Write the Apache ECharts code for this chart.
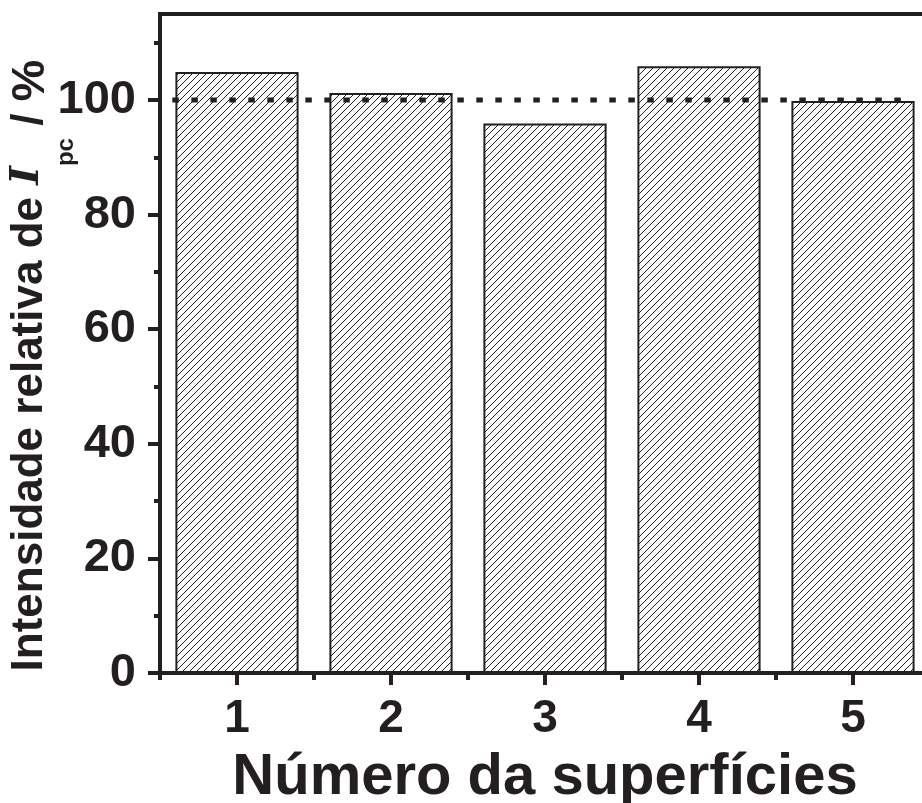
<!DOCTYPE html>
<html>
<head>
<meta charset="utf-8">
<script src="https://cdn.jsdelivr.net/npm/echarts@6/dist/echarts.min.js"></script>
<style>
html,body{margin:0;padding:0;background:#fff;}
#chart{width:922px;height:803px;}
</style>
</head>
<body>
<div id="chart"></div>
<script>
// ---- data ----
const categories = [1, 2, 3, 4, 5];
const values = [104.9, 101.2, 95.9, 105.9, 99.8];
const yTickLabels = [0, 20, 40, 60, 80, 100];
const yMinorTicks = [10, 30, 50, 70, 90, 110];
const xMinorTicks = [0.5, 1.5, 2.5, 3.5, 4.5, 5.5];
const refValue = 100;
const refLineX = [0.58, 5.39];

const INK = '#231f20';
const FONT = '"Liberation Sans", Arial, sans-serif';

// hatch pattern "/////"
function makeHatch() {
  const L = 14, n = 2;
  const c = document.createElement('canvas');
  c.width = L; c.height = L;
  const ctx = c.getContext('2d');
  ctx.fillStyle = '#fff';
  ctx.fillRect(0, 0, L, L);
  ctx.strokeStyle = INK;
  ctx.lineWidth = 1.0;
  for (let k = -n; k <= 3 * n; k++) {
    const s = k * L / n;
    ctx.beginPath();
    ctx.moveTo(s + L, -L);
    ctx.lineTo(s - 2 * L, 2 * L);
    ctx.stroke();
  }
  return c;
}
const hatch = makeHatch();

const chart = echarts.init(document.getElementById('chart'));
const option = {
  backgroundColor: '#fff',
  animation: false,
  grid: {
    left: 160, top: 14, width: 770, height: 659,
    outerBoundsMode: 'none', containLabel: false,
    show: true, borderColor: INK, borderWidth: 4, backgroundColor: 'transparent'
  },
  xAxis: [
    {
      type: 'value', min: 0.5, max: 5.5, position: 'bottom',
      axisLine: { show: true, onZero: false, lineStyle: { color: INK, width: 4 } },
      axisTick: { show: true, inside: false, length: 12, customValues: categories, lineStyle: { color: INK, width: 4 } },
      axisLabel: { show: true, customValues: categories, margin: 23, color: INK, fontSize: 46, fontWeight: 'bold', fontFamily: FONT },
      splitLine: { show: false },
      name: 'Número da superfícies',
      nameLocation: 'middle',
      nameGap: 76,
      nameMoveOverlap: false,
      nameTextStyle: { color: INK, fontSize: 58, fontWeight: 'bold', fontFamily: FONT }
    },
    {
      type: 'value', min: 0.5, max: 5.5, position: 'bottom',
      axisLine: { show: false },
      axisTick: { show: true, inside: false, length: 7, customValues: xMinorTicks, lineStyle: { color: INK, width: 4 } },
      axisLabel: { show: false },
      splitLine: { show: false }
    }
  ],
  yAxis: [
    {
      type: 'value', min: 0, max: 115, position: 'left',
      axisLine: { show: true, onZero: false, lineStyle: { color: INK, width: 4 } },
      axisTick: { show: true, inside: false, length: 12, customValues: yTickLabels, lineStyle: { color: INK, width: 4 } },
      axisLabel: { show: true, customValues: yTickLabels, margin: 24, color: INK, fontSize: 47, fontWeight: 'bold', fontFamily: FONT },
      splitLine: { show: false },
      name: '{a|Intensidade relativa de }{i|I}{s|pc}{a| / }{p|%}',
      nameLocation: 'middle',
      nameRotate: 90,
      nameGap: 82,
      nameMoveOverlap: false,
      nameTextStyle: {
        padding: [0, 44, 0, 0],
        rich: {
          a: { color: INK, fontSize: 44, fontWeight: 'bold', fontFamily: FONT, lineHeight: 44, verticalAlign: 'top' },
          p: { color: INK, fontSize: 47, fontWeight: 'bold', fontFamily: FONT, lineHeight: 44, verticalAlign: 'top' },
          i: { color: INK, fontSize: 40, fontWeight: 'bold', fontStyle: 'italic', fontFamily: '"DejaVu Serif", "Liberation Serif", serif', lineHeight: 44, verticalAlign: 'top' },
          s: { color: INK, fontSize: 24, fontWeight: 'bold', fontFamily: FONT, lineHeight: 70, verticalAlign: 'bottom' }
        }
      }
    },
    {
      type: 'value', min: 0, max: 115, position: 'left',
      axisLine: { show: false },
      axisTick: { show: true, inside: false, length: 6, customValues: yMinorTicks, lineStyle: { color: INK, width: 4 } },
      axisLabel: { show: false },
      splitLine: { show: false }
    }
  ],
  series: [
    {
      type: 'bar',
      xAxisIndex: 0, yAxisIndex: 0,
      data: categories.map((c, i) => [c, values[i]]),
      barWidth: '80%',
      itemStyle: { color: { image: hatch, repeat: 'repeat' }, borderColor: INK, borderWidth: 2 },
      emphasis: { disabled: true },
      z: 2
    },
    {
      type: 'line',
      xAxisIndex: 0, yAxisIndex: 0,
      data: refLineX.map(x => [x, refValue]),
      symbol: 'none',
      lineStyle: { color: INK, width: 5, type: [6.5, 12.5], cap: 'butt' },
      emphasis: { disabled: true },
      z: 5
    }
  ]
};
chart.setOption(option);
</script>
</body>
</html>
